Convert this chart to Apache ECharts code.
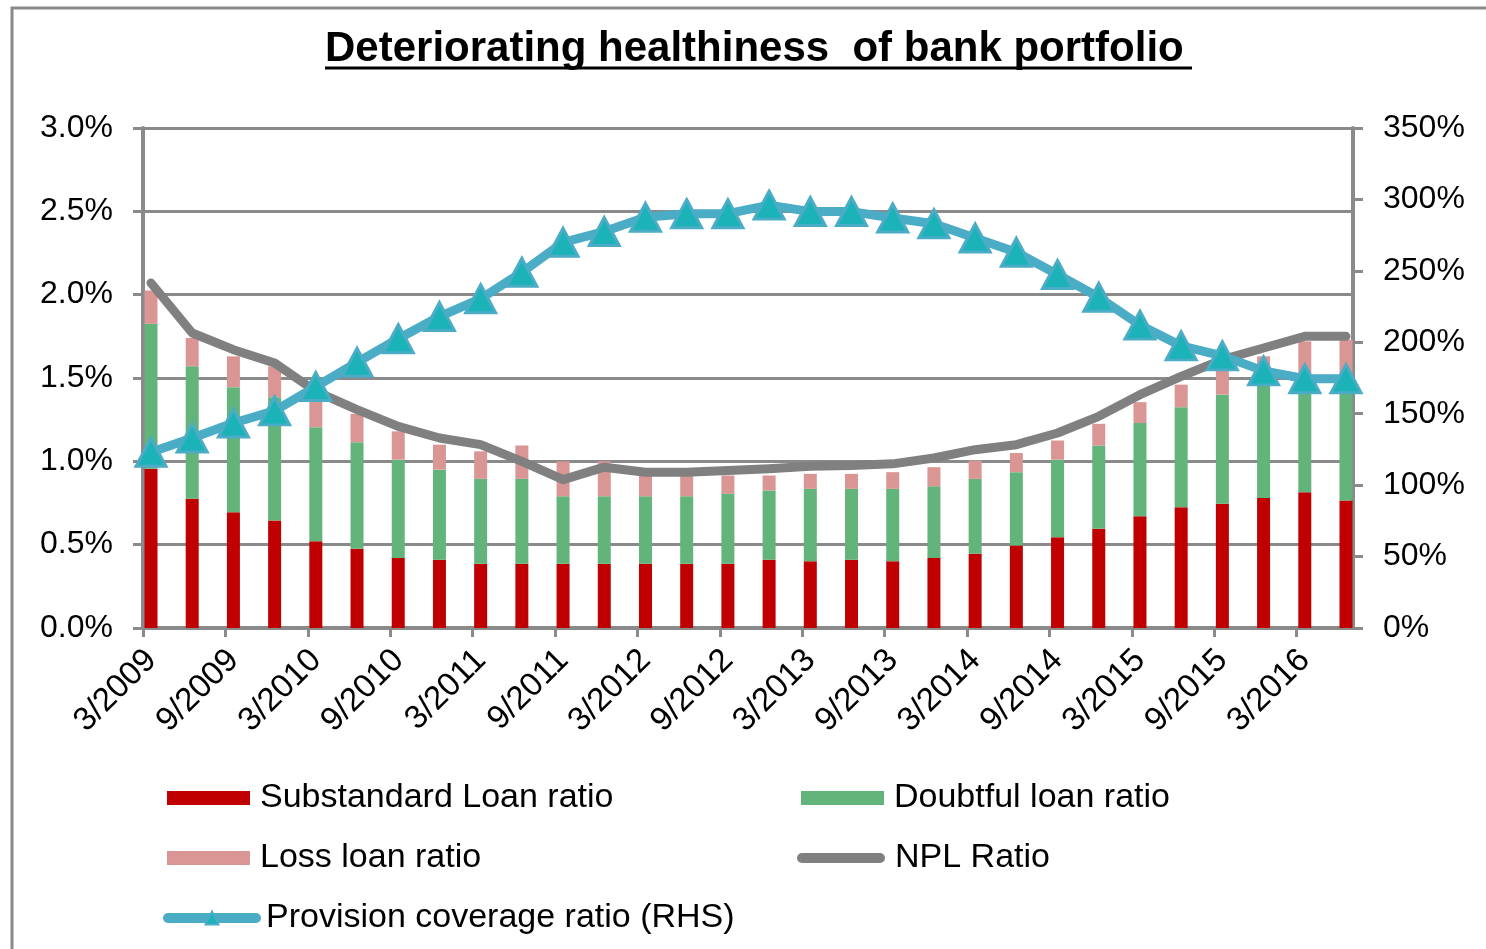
<!DOCTYPE html>
<html>
<head>
<meta charset="utf-8">
<script src="https://cdn.jsdelivr.net/npm/echarts@6/dist/echarts.min.js"></script>
<style>
  html, body { margin: 0; padding: 0; background: #fff; }
  #main { width: 1486px; height: 949px; }
</style>
</head>
<body>
<div id="main"></div>
<script>
// quarterly data
var categories = ['3/2009', '6/2009', '9/2009', '12/2009', '3/2010', '6/2010', '9/2010', '12/2010',
    '3/2011', '6/2011', '9/2011', '12/2011', '3/2012', '6/2012', '9/2012', '12/2012',
    '3/2013', '6/2013', '9/2013', '12/2013', '3/2014', '6/2014', '9/2014', '12/2014',
    '3/2015', '6/2015', '9/2015', '12/2015', '3/2016', '6/2016'];

var substandard = [0.955, 0.775, 0.695, 0.645, 0.52, 0.475, 0.42, 0.41, 0.385, 0.385,
    0.385, 0.385, 0.385, 0.385, 0.385, 0.41, 0.40, 0.41, 0.40, 0.42,
    0.445, 0.495, 0.545, 0.595, 0.67, 0.725, 0.745, 0.78, 0.815, 0.765];

var doubtful = [0.87, 0.795, 0.75, 0.74, 0.685, 0.64, 0.59, 0.54, 0.51, 0.51,
    0.405, 0.405, 0.405, 0.405, 0.42, 0.415, 0.435, 0.425, 0.435, 0.43,
    0.45, 0.44, 0.465, 0.50, 0.56, 0.60, 0.655, 0.69, 0.685, 0.72];

var loss = [0.20, 0.17, 0.185, 0.185, 0.20, 0.17, 0.17, 0.15, 0.165, 0.20,
    0.21, 0.21, 0.125, 0.125, 0.11, 0.09, 0.09, 0.09, 0.10, 0.115,
    0.11, 0.115, 0.115, 0.13, 0.125, 0.135, 0.15, 0.16, 0.22, 0.245];

var nplRatio = [2.07, 1.77, 1.67, 1.59, 1.42, 1.31, 1.21, 1.14, 1.10, 1.00,
    0.89, 0.965, 0.935, 0.935, 0.945, 0.955, 0.97, 0.975, 0.985, 1.02,
    1.07, 1.10, 1.17, 1.27, 1.40, 1.51, 1.61, 1.68, 1.75, 1.75];

var provisionCoverage = [123, 133, 143.5, 152, 169, 186, 202.5, 218, 230.5, 249,
    270, 277.5, 287.5, 290, 290, 296, 291.5, 291.5, 287, 283,
    273, 263, 247.5, 231.5, 212, 197.5, 190.5, 180, 174.5, 174.5];

var leftTicks = [0, 0.5, 1.0, 1.5, 2.0, 2.5, 3.0];
var rightTicks = [0, 50, 100, 150, 200, 250, 300, 350];

var myChart = echarts.init(document.getElementById('main'), null, { renderer: 'canvas' });

var gray = '#8a8a8a';
var font = 'Liberation Sans, Arial, sans-serif';

// label every other quarter; excel put the ticks a bit left of the bars
var labelIdx = categories.map(function (c, i) { return i; }).filter(function (i) { return i % 2 === 0; });

function legendItem(name, left, top, w, extra) {
    var l = {
        data: [name],
        left: left,
        top: top,
        padding: 0,
        itemWidth: w,
        itemHeight: 14,
        selectedMode: false,
        textStyle: { fontSize: 34, color: '#000', fontFamily: font, padding: [0, 0, 0, 5] }
    };
    for (var k in extra) l[k] = extra[k];
    return l;
}

var option = {
    animation: false,
    backgroundColor: '#fff',
    title: {
        text: 'Deteriorating healthiness  of bank portfolio',
        left: 325,
        top: 28,
        padding: 0,
        textStyle: { fontSize: 42, fontWeight: 'bold', color: '#000', fontFamily: font }
    },
    graphic: [
        { type: 'rect', shape: { x: 12, y: 8, width: 1700, height: 1100 },
          style: { fill: 'none', stroke: gray, lineWidth: 3 }, silent: true },
        { type: 'line', shape: { x1: 325, y1: 68, x2: 1192, y2: 68 },
          style: { stroke: '#000', lineWidth: 3 }, silent: true }
    ],
    legend: [
        legendItem('Substandard Loan ratio', 167, 781, 83, { icon: 'rect' }),
        legendItem('Doubtful loan ratio', 801, 781, 83, { icon: 'rect' }),
        legendItem('Loss loan ratio', 167, 841, 83, { icon: 'rect' }),
        legendItem('NPL Ratio', 797, 841, 88, {
            icon: 'path://M5,0 L83,0 A5,5 0 0 1 83,10 L5,10 A5,5 0 0 1 5,0 Z',
            itemHeight: 10
        }),
        legendItem('Provision coverage ratio (RHS)', 163, 901, 88, {
            lineStyle: { width: 10, cap: 'round' },
            itemHeight: 16
        })
    ],
    // grid 0 carries the visible axes, grid 1 the data (shifted like the original)
    grid: [
        { left: 143, right: 133, top: 128, bottom: 321 },
        { left: 151, right: 140, top: 128, bottom: 321 }
    ],
    xAxis: [{
        type: 'value',
        gridIndex: 0,
        min: -0.2,
        max: 29.17,
        splitLine: { show: false },
        axisLine: { onZero: false, lineStyle: { color: gray, width: 4 } },
        axisTick: {
            show: true, length: 9,
            customValues: labelIdx.map(function (i) { return i - 0.2; }),
            lineStyle: { color: gray, width: 3 }
        },
        axisLabel: {
            customValues: labelIdx,
            rotate: 45,
            margin: 27,
            fontSize: 33,
            color: '#000',
            fontFamily: font,
            formatter: function (v) { return categories[Math.round(v)]; }
        }
    }, {
        type: 'category',
        gridIndex: 1,
        show: false,
        boundaryGap: false,
        data: categories
    }],
    yAxis: [{
        type: 'value',
        gridIndex: 0,
        min: leftTicks[0],
        max: leftTicks[leftTicks.length - 1],
        interval: 0.5,
        axisLine: { show: true, onZero: false, lineStyle: { color: gray, width: 4 } },
        axisTick: { show: true, length: 10, lineStyle: { color: gray, width: 3 } },
        splitLine: { show: true, lineStyle: { color: gray, width: 3 } },
        axisLabel: {
            margin: 30, fontSize: 32, color: '#000', fontFamily: font,
            formatter: function (v) { return v.toFixed(1) + '%'; }
        }
    }, {
        type: 'value',
        gridIndex: 0,
        position: 'right',
        min: rightTicks[0],
        max: rightTicks[rightTicks.length - 1],
        interval: 50,
        axisLine: { show: true, onZero: false, lineStyle: { color: gray, width: 4 } },
        axisTick: { show: true, length: 10, lineStyle: { color: gray, width: 3 } },
        splitLine: { show: false },
        axisLabel: {
            margin: 30, fontSize: 32, color: '#000', fontFamily: font,
            formatter: function (v) { return v + '%'; }
        }
    }, {
        type: 'value',
        gridIndex: 1,
        show: false,
        min: leftTicks[0],
        max: leftTicks[leftTicks.length - 1]
    }, {
        type: 'value',
        gridIndex: 1,
        show: false,
        position: 'right',
        min: rightTicks[0],
        max: rightTicks[rightTicks.length - 1]
    }],
    series: [{
        name: 'Substandard Loan ratio',
        type: 'bar',
        xAxisIndex: 1,
        yAxisIndex: 2,
        stack: 'npl',
        barWidth: 13,
        clip: false,
        data: substandard,
        itemStyle: { color: '#C00000' }
    }, {
        name: 'Doubtful loan ratio',
        type: 'bar',
        xAxisIndex: 1,
        yAxisIndex: 2,
        stack: 'npl',
        barWidth: 13,
        clip: false,
        data: doubtful,
        itemStyle: { color: '#62B47B' }
    }, {
        name: 'Loss loan ratio',
        type: 'bar',
        xAxisIndex: 1,
        yAxisIndex: 2,
        stack: 'npl',
        barWidth: 13,
        clip: false,
        data: loss,
        itemStyle: { color: '#D99694' }
    }, {
        name: 'NPL Ratio',
        type: 'line',
        xAxisIndex: 1,
        yAxisIndex: 2,
        data: nplRatio,
        symbol: 'none',
        clip: false,
        z: 3,
        lineStyle: { color: '#808080', width: 9, cap: 'round', join: 'round' },
        itemStyle: { color: '#808080' }
    }, {
        name: 'Provision coverage ratio (RHS)',
        type: 'line',
        xAxisIndex: 1,
        yAxisIndex: 3,
        data: provisionCoverage,
        symbol: 'triangle',
        symbolSize: [30, 28],
        showAllSymbol: true,
        clip: false,
        z: 4,
        lineStyle: { color: '#4BACC6', width: 9, join: 'round', cap: 'round' },
        itemStyle: { color: '#1BB3B8', borderColor: '#4BACC6', borderWidth: 3 }
    }]
};

if (option && typeof option === 'object') {
    myChart.setOption(option);
}

window.addEventListener('resize', myChart.resize);
</script>
</body>
</html>
